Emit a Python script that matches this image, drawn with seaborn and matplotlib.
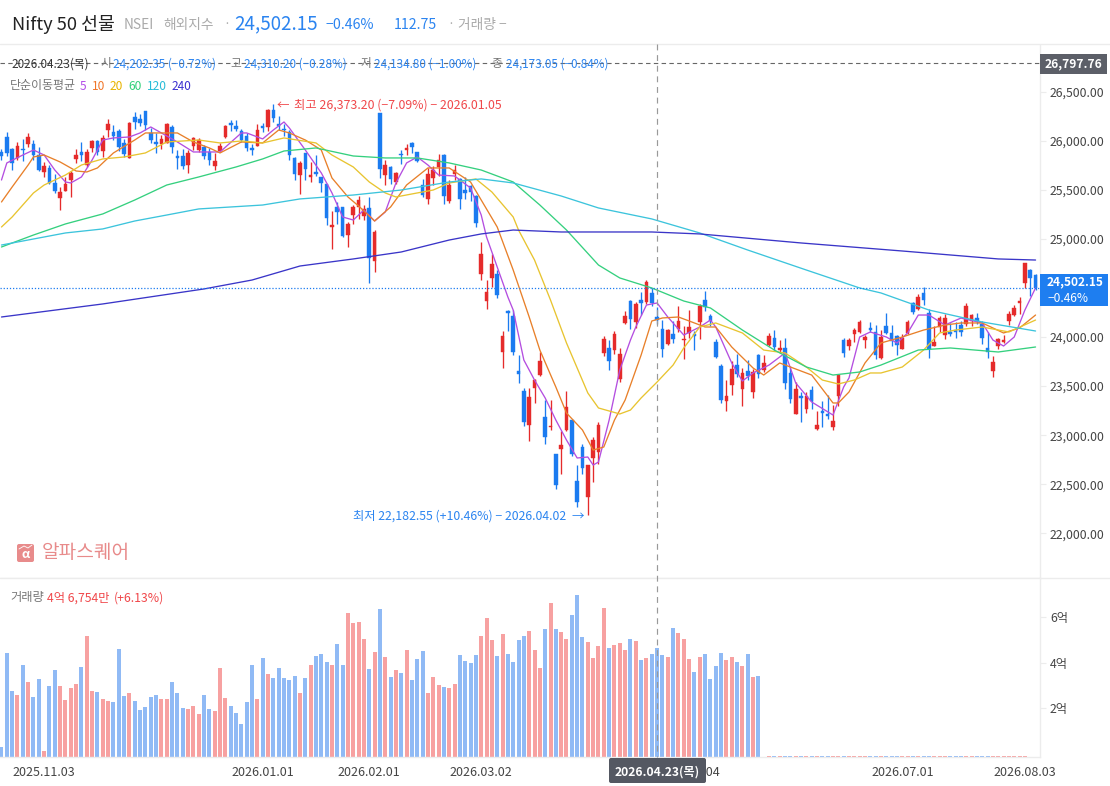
import numpy as np
import pandas as pd
import matplotlib
matplotlib.use('Agg')
import matplotlib.pyplot as plt
from matplotlib.patches import Rectangle, FancyBboxPatch
import seaborn as sns

# candles, one value per trading day
highs = [25915,26088,25932,25986,26020,26081,26010,25935,25786,25755,
         25663,25527,25629,25690,25915,25990,25915,26010,26010,26058,
         26224,26163,26122,26017,26194,26296,26275,26306,26132,26078,
         26061,26183,26163,25908,25922,25908,26037,26030,25959,25928,
         25877,25979,26163,26214,26214,26122,26078,25969,26173,26180,
         26323,26373,26255,26173,26112,25833,25796,25877,25786,25857,
         25633,25561,25286,25378,25327,25174,25347,25439,25347,25429,
         25092,26285,25806,25745,25684,25908,25969,25990,25888,25612,
         25724,25745,25867,25867,25602,25755,25622,25633,25551,25449,
         24970,24582,24847,24684,24062,24276,24276,23817,23480,23480,
         23572,23848,23358,23358,22807,23042,23450,23154,22695,22909,
         22695,22981,23134,24011,23970,24062,23888,24266,24378,24358,
         24460,24582,24500,24310,24174,24082,24164,24317,24113,24276,
         24062,24337,24470,24235,23980,23725,23562,23756,23827,23684,
         23766,23674,23827,23817,24041,24072,23970,23990,23705,23542,
         23440,23440,23501,23246,23348,23409,23307,23623,23990,23990,
         24092,24174,24021,24154,24123,24072,24245,24123,24021,24031,
         24174,24358,24439,24511,24286,24113,24215,24235,24143,24154,
         24164,24347,24235,24245,24164,24052,23807,23990,24021,24266,
         24327,24409,24755,24694,24643]
lows = [25806,25847,25704,25806,25799,25942,25806,25694,25629,25561,
        25466,25296,25486,25429,25772,25796,25738,25884,25857,25837,
        26041,26010,25898,25840,25826,26119,26153,26112,25976,25877,
        25918,25979,25877,25714,25714,25673,25908,25888,25816,25755,
        25704,25888,26030,26102,26102,25990,25898,25857,25949,26095,
        26102,26194,26112,26051,25806,25602,25459,25602,25582,25643,
        25480,25143,24898,25153,25017,24919,25153,25204,25194,24551,
        24664,25622,25551,25561,25561,25765,25857,25877,25786,25429,
        25357,25551,25643,25357,25367,25602,25306,25408,25388,25123,
        24582,24286,24511,24398,23684,24062,23817,23531,23093,22940,
        23327,23603,22909,23052,22450,22603,23042,22787,22267,22603,
        22183,22522,22705,23807,23664,23827,23542,24133,24082,24092,
        24225,24337,24317,24134,23797,23919,23939,24052,23776,23990,
        23868,23980,24266,24113,23786,23327,23246,23409,23593,23297,
        23562,23378,23582,23644,23909,23858,23834,23470,23327,23215,
        23134,23225,23266,23052,23083,23164,23052,23297,23797,23868,
        23950,24038,23888,24055,23776,23776,24031,23909,23817,23878,
        24031,24235,24276,24327,23786,23909,24052,23980,24011,23990,
        24011,24113,24113,24133,23929,23786,23593,23878,23939,24123,
        24215,24235,24500,24419,24480]
opens = [25888,26044,25918,25823,25922,25969,25969,25857,25684,25724,
         25571,25418,25490,25602,25816,25888,25755,25928,26000,25898,
         26112,26092,26102,25979,25830,26245,26224,26306,26081,25990,
         25969,25983,26143,25847,25847,25755,25949,25908,25939,25888,
         25745,25898,26041,26183,26153,26102,26051,25928,25949,26153,
         26139,26316,26173,26122,26092,25826,25653,25877,25633,25687,
         25633,25561,25123,25327,25327,25041,25245,25327,25235,25316,
         24776,26285,25653,25735,25582,25867,25908,25979,25888,25551,
         25408,25622,25735,25857,25388,25663,25612,25500,25541,25439,
         24643,24368,24602,24643,23848,24266,24215,23654,23450,23103,
         23480,23613,23185,23079,22807,22858,23052,23154,22532,22879,
         22369,22766,22828,23837,23888,23868,23572,24143,24368,24154,
         24378,24358,24449,24202,24082,23929,24031,24082,23970,24041,
         24031,24154,24378,24215,23950,23705,23348,23511,23715,23470,
         23654,23440,23817,23664,23919,23990,23868,23888,23633,23215,
         23399,23266,23460,23062,23246,23215,23083,23399,23970,23909,
         24031,24052,23970,24092,24052,23786,24113,24041,24011,23878,
         24041,24347,24286,24449,24245,23909,24103,24021,24052,24072,
         24123,24133,24164,24194,24133,23888,23654,23909,23950,24164,
         24225,24347,24551,24684,24633]
closes = [25847,25881,25779,25945,25908,26041,25857,25704,25745,25575,
          25490,25480,25561,25670,25857,25857,25888,26000,25884,26030,
          26173,26051,25939,25867,26183,26194,26183,26163,26010,25969,
          26020,26173,25942,25826,25745,25877,26030,26010,25847,25806,
          25796,25949,26153,26163,26122,26010,25928,25908,26112,26132,
          26316,26234,26153,26112,25857,25663,25775,25714,25653,25663,
          25571,25214,25143,25276,25031,25153,25327,25398,25306,24806,
          25072,25714,25755,25612,25673,25857,25928,25939,25796,25449,
          25663,25704,25806,25439,25551,25704,25408,25469,25480,25163,
          24847,24460,24745,24429,24011,24245,23848,23623,23134,23389,
          23562,23756,22981,23093,22491,22899,23287,22807,22318,22664,
          22695,22950,23103,23980,23756,24031,23827,24215,24184,24337,
          24347,24562,24347,24173,23878,24072,23980,24164,23980,24103,
          24011,24317,24307,24164,23797,23358,23399,23674,23623,23633,
          23603,23644,23623,23735,24011,23899,23888,23531,23368,23470,
          23378,23399,23348,23103,23225,23195,23144,23613,23837,23970,
          24072,24154,24001,24072,23817,24001,24041,23960,23919,23990,
          24154,24256,24409,24378,23878,23950,24194,24194,24031,24052,
          24052,24317,24225,24164,23990,23848,23746,23980,23970,24235,
          24296,24368,24755,24602,24502]

# volume in 억, read against the 2/4/6 ticks (one day has no bar)
volumes = [0.31,4.43,2.76,2.59,3.90,3.15,2.50,3.28,0.14,2.98,
           3.68,2.98,2.37,2.89,3.07,3.81,5.16,2.76,2.72,2.41,
           2.32,2.28,4.59,2.54,2.67,2.32,1.93,2.06,2.50,2.59,
           2.41,2.41,3.15,2.67,2.02,1.97,2.10,1.76,2.59,1.97,
           1.89,3.76,2.45,2.10,1.80,1.32,2.28,3.90,2.41,4.20,
           3.50,3.33,3.76,3.33,3.24,3.41,2.67,3.33,3.90,4.29,
           4.38,4.03,3.90,4.81,3.90,6.17,5.73,5.77,5.03,3.72,
           4.46,6.34,4.24,3.37,3.68,3.54,4.55,3.24,4.16,4.51,
           2.67,3.37,3.02,2.93,2.89,3.07,4.33,4.07,3.98,4.33,
           5.16,5.95,4.99,4.29,5.25,4.38,4.03,4.99,5.16,5.38,
           4.55,3.76,5.47,6.60,5.47,5.34,5.03,6.08,6.95,5.12,
           4.90,4.20,4.73,6.38,4.64,4.77,4.86,4.55,5.03,4.94,
           4.11,4.20,4.38,4.64,4.33,4.24,5.51,5.29,5.03,4.16,
           3.59,4.24,4.38,3.28,3.85,4.42,4.11,4.24,4.03,3.85,
           4.38,3.37,3.41,np.nan,0.04,0.04,0.04,0.04,0.04,0.04,
           0.04,0.04,0.04,0.04,0.04,0.04,0.04,0.04,0.04,0.04,
           0.04,0.04,0.04,0.04,0.04,0.04,0.04,0.04,0.04,0.04,
           0.04,0.04,0.04,0.04,0.04,0.04,0.04,0.04,0.04,0.04,
           0.04,0.04,0.04,0.04,0.04,0.04,0.04,0.04,0.04,0.04,
           0.04,0.04,0.04]

# moving averages, read at the bends of each line
ma5_x = [0,1,4,6,8,10,12,13,15,17,19,21,24,26,28,30,33,36,41,45,46,49,51,53,54,57,60,62,64,66,68,70,72,74,76,78,80,82,85,88,90,91,93,95,96,98,100,102,104,106,108,110,111,112,114,116,118,119,121,123,125,128,131,133,134,137,139,141,144,147,149,152,156,158,159,161,163,166,168,170,172,174,177,180,184,186,188,190,192,194]
ma5_y = [25602,25776,25857,25908,25857,25704,25582,25572,25633,25806,26010,26031,26041,26082,26143,26082,25990,25888,25888,26082,26082,26021,26112,26194,26133,25908,25674,25470,25225,25194,25296,25184,25276,25572,25776,25837,25755,25653,25643,25521,25245,25021,24715,24409,24276,23766,23562,23379,23154,22950,22767,22777,22695,22726,23154,23664,23970,24103,24327,24348,24205,24021,24103,24174,24103,23736,23552,23634,23715,23838,23532,23338,23205,23491,23583,24001,24052,24001,23940,24042,24225,24225,24123,24194,24144,23970,23909,24001,24276,24501]
ma10_x = [0,2,5,6,8,11,14,16,18,21,25,27,33,36,39,41,45,49,52,54,57,60,62,65,67,70,73,76,80,84,88,90,93,96,99,101,104,106,109,111,113,115,117,120,122,124,127,130,132,134,137,141,143,146,152,156,157,159,162,165,169,173,177,180,184,188,191,194]
ma10_y = [25378,25531,25755,25837,25857,25786,25694,25684,25725,25878,26010,26082,26082,25990,25929,25878,25990,25980,26112,26082,26010,25908,25623,25429,25337,25184,25327,25551,25725,25725,25582,25398,25123,24684,24205,23868,23491,23226,23052,22848,22879,23154,23358,23817,24164,24195,24205,24144,24103,24103,23899,23685,23613,23736,23613,23328,23328,23440,23736,23940,24001,24072,24123,24144,24144,24042,24093,24225]
ma20_x = [0,2,6,8,12,15,19,23,27,31,37,41,45,49,53,59,62,66,69,72,74,78,81,84,89,92,96,97,100,103,106,110,112,116,118,120,123,126,128,131,134,139,143,147,151,154,157,160,163,165,169,173,176,179,184,189,194]
ma20_y = [25123,25225,25470,25551,25653,25755,25817,25837,25878,25990,26010,25980,26000,25980,26031,25980,25857,25735,25582,25470,25429,25470,25500,25572,25613,25480,25225,25092,24786,24378,23940,23430,23277,23216,23256,23379,23542,23715,23889,24103,24144,24042,23868,23838,23695,23562,23522,23562,23634,23634,23695,23868,24042,24072,24103,24052,24174]
ma60_x = [0,6,12,19,25,31,37,44,49,53,59,66,72,78,84,90,96,101,106,112,116,122,128,133,139,145,151,156,161,165,172,178,187,194]
ma60_y = [24919,25041,25154,25256,25398,25551,25633,25735,25817,25898,25929,25847,25827,25827,25776,25704,25582,25347,25092,24735,24603,24501,24368,24297,24072,23868,23695,23613,23644,23715,23868,23889,23848,23899]
ma120_x = [0,12,19,25,31,37,49,56,66,75,84,90,96,105,112,122,131,140,151,161,165,174,184,194]
ma120_y = [24939,25062,25103,25184,25245,25307,25347,25409,25449,25500,25582,25613,25572,25439,25317,25205,25062,24888,24684,24501,24450,24276,24154,24062]
ma240_x = [0,19,38,47,56,66,75,84,90,96,105,122,131,150,169,187,194]
ma240_y = [24205,24338,24491,24582,24725,24797,24868,24990,25052,25092,25072,25072,25052,24960,24878,24797,24786]

price_ticks = [26500,26000,25500,25000,24500,24000,23500,23000,22500,22000]
volume_ticks = [2,4,6]
date_pos = [8,49,69,90,129,169,192]
date_labels = ['2025.11.03','2026.01.01','2026.02.01','2026.03.02','2026.05.04','2026.07.01','2026.08.03']

UP = '#e52b2b'
DOWN = '#1b7bf0'
VOL_UP = '#f7a1a1'
VOL_DOWN = '#90baf5'
TEXT_BLUE = '#2b84f0'
TEXT_RED = '#f0474a'
GREY = '#777777'
LINE = '#ececec'
ma_colors = {'5': '#b44ee0', '10': '#e8802a', '20': '#e8c430',
             '60': '#35d07f', '120': '#3cc4dc', '240': '#3a35c8'}

sns.set_theme(style='white')
plt.rcParams['font.family'] = ['Noto Sans CJK KR', 'DejaVu Sans']
plt.rcParams['axes.unicode_minus'] = True

W, H = 1110, 786
fig = plt.figure(figsize=(W / 100, H / 100), dpi=100)
ax = fig.add_axes([0, 1 - 578 / H, 1039.5 / W, (578 - 45) / H])
ax2 = fig.add_axes([0, 1 - 757 / H, 1039.5 / W, (757 - 578) / H])
xlim = (-0.28, 194.74)

# price panel
days = np.arange(len(closes))
opens_a, closes_a = np.array(opens), np.array(closes)
is_up = closes_a >= opens_a
colors = np.where(is_up, UP, DOWN)
ax.vlines(days, lows, highs, colors=colors, lw=0.95, zorder=2)
ax.bar(days, np.abs(closes_a - opens_a), bottom=np.minimum(opens_a, closes_a),
       width=0.68, color=colors, edgecolor=colors, linewidth=0.3, zorder=3)

ma_frames = []
for name, xs, ys in [('5', ma5_x, ma5_y), ('10', ma10_x, ma10_y), ('20', ma20_x, ma20_y),
                     ('60', ma60_x, ma60_y), ('120', ma120_x, ma120_y), ('240', ma240_x, ma240_y)]:
    ma_frames.append(pd.DataFrame({'day': xs, 'price': ys, 'ma': name}))
ma_df = pd.concat(ma_frames, ignore_index=True)
sns.lineplot(data=ma_df, x='day', y='price', hue='ma', palette=ma_colors, estimator=None,
             sort=False, linewidth=0.95, legend=False, ax=ax, zorder=4)

ax.axhline(24502.15, color=DOWN, lw=0.9, ls=(0, (1, 1.5)), zorder=5)
ax.axhline(26797.76, color='#666666', lw=0.8, ls=(0, (4, 3)), zorder=1)

ax.set_xlim(xlim)
ax.set_ylim(21543, 26979)
ax.set_xlabel('')
ax.set_ylabel('')
ax.set_xticks([])
ax.yaxis.tick_right()
ax.set_yticks(price_ticks)
ax.set_yticklabels([f'{v:,.2f}' for v in price_ticks])
ax.tick_params(axis='y', length=4, width=0.8, color=LINE, labelcolor='#444444', labelsize=8.85, pad=3.5)
for s in ['top', 'left']:
    ax.spines[s].set_visible(False)
for s in ['right', 'bottom']:
    ax.spines[s].set_color(LINE)
    ax.spines[s].set_linewidth(1)

# volume panel
vol_df = pd.DataFrame({'day': days[:len(volumes)], 'volume': volumes})
vol_df['side'] = np.where(is_up[:len(volumes)], 'up', 'down')
vol_df = vol_df.dropna()
sns.barplot(data=vol_df, x='day', y='volume', hue='side', palette={'up': VOL_UP, 'down': VOL_DOWN},
            native_scale=True, dodge=False, width=0.75, saturation=1, linewidth=0, legend=False, ax=ax2)
vol_floor = -0.12
for p in ax2.patches:
    h = p.get_height()
    p.set_y(vol_floor)
    if h > 0.1:
        p.set_height(h - vol_floor)
ax2.set_xlim(xlim)
ax2.set_ylim(vol_floor, 7.69)
ax2.set_xlabel('')
ax2.set_ylabel('')
ax2.set_xticks(date_pos)
ax2.set_xticklabels(date_labels)
ax2.yaxis.tick_right()
ax2.set_yticks(volume_ticks)
ax2.set_yticklabels([f'{v}억' for v in volume_ticks])
ax2.tick_params(axis='y', length=4, width=0.8, color=LINE, labelcolor='#444444', labelsize=8.85, pad=3.5)
ax2.tick_params(axis='x', length=3, width=0.8, color=LINE, labelcolor='#444444', labelsize=9, pad=3.5)
for s in ['top', 'left']:
    ax2.spines[s].set_visible(False)
for s in ['right', 'bottom']:
    ax2.spines[s].set_color(LINE)
    ax2.spines[s].set_linewidth(1)

# header, labels and boxes on a pixel-sized layer above the panels
ov = fig.add_axes([0, 0, 1, 1], zorder=10)
ov.set_xlim(0, W)
ov.set_ylim(H, 0)
ov.axis('off')

def put(x, y, s, color='#444444', size=8.7, ha='left', **kw):
    ov.text(x, y, s, color=color, fontsize=size, ha=ha, va='center', **kw)

ov.plot([0, W], [44, 44], color=LINE, lw=1)
ov.plot([0, W], [578, 578], color=LINE, lw=1)
ov.plot([657, 657], [44, 757], color='#999999', lw=0.85, ls=(0, (5, 4)))

put(12, 24, 'Nifty 50 선물', color='#222222', size=13.2)
put(124, 25, 'NSEI', color='#aaaaaa', size=9.9)
put(163, 25, '해외지수', color='#aaaaaa', size=9.9)
put(223, 25, '·', color='#aaaaaa', size=9)
put(234, 24, '24,502.15', color=TEXT_BLUE, size=13.5)
put(326, 25, '−0.46%', color=TEXT_BLUE, size=10.2)
put(394, 25, '112.75', color=TEXT_BLUE, size=10.2)
put(447, 25, '·', color='#aaaaaa', size=9)
put(458, 25, '거래량 −', color='#aaaaaa', size=9.9)

put(11, 64, '2026.04.23(목)', color='#333333', size=8.4)
for x, s in [(100, '시'), (230, '고'), (361, '저'), (491, '종')]:
    put(x, 64, s, color=GREY, size=8.4)
for x, s in [(113, '24,202.35 (−0.72%)'), (244, '24,310.20 (−0.28%)'),
             (374, '24,134.80 (−1.00%)'), (506, '24,173.05 (−0.84%)')]:
    put(x, 64, s, color=TEXT_BLUE, size=8.4)

put(10, 86, '단순이동평균', color=GREY, size=8.6)
for x, s, c in [(80, '5', '#b34de8'), (92, '10', '#f0762a'), (110, '20', '#e8b400'),
                (128, '60', '#2fd07a'), (147, '120', '#28bcd8'), (172, '240', '#3a2fd0')]:
    put(x, 86, s, color=c, size=8.6)

put(277, 105, '←', color=TEXT_RED, size=9)
put(294, 105, '최고 26,373.20 (−7.09%) − 2026.01.05', color=TEXT_RED, size=8.87)
put(353, 516, '최저 22,182.55 (+10.46%) − 2026.04.02', color=TEXT_BLUE, size=8.85)
put(572, 516, '→', color=TEXT_BLUE, size=9)

put(10, 598, '거래량', color=GREY, size=8.8)
put(47, 598, '4억 6,754만', color=TEXT_RED, size=8.8)
put(114, 598, '(+6.13%)', color=TEXT_RED, size=8.8)

# watermark
ov.add_patch(FancyBboxPatch((17, 544), 17, 18, boxstyle='round,pad=0,rounding_size=2',
                            fc='#e88b8b', ec='none'))
put(25.5, 554, 'α', color='white', size=9, ha='center', fontweight='bold')
ov.plot([19, 24, 28, 32], [549, 546, 548, 545], color='white', lw=0.6)
put(42, 553, '알파스퀘어', color='#e88b8b', size=13.8)

# right side value boxes
ov.add_patch(Rectangle((1040, 54), 67, 20, fc='#5c5f68', ec='none'))
put(1073.5, 64, '26,797.76', color='white', size=8.7, ha='center', fontweight='bold')
ov.add_patch(Rectangle((1040, 274), 68, 32, fc='#1e7ef0', ec='none'))
put(1047, 282, '24,502.15', color='white', size=8.6, fontweight='bold')
put(1047, 298, '−0.46%', color='white', size=8.6)

# date box under the crosshair
ov.add_patch(FancyBboxPatch((609, 758), 97, 25, boxstyle='round,pad=0,rounding_size=2',
                            fc='#545862', ec='none'))
put(657.5, 772, '2026.04.23(목)', color='white', size=8.7, ha='center', fontweight='bold')

fig.savefig('out.png', dpi=100)
